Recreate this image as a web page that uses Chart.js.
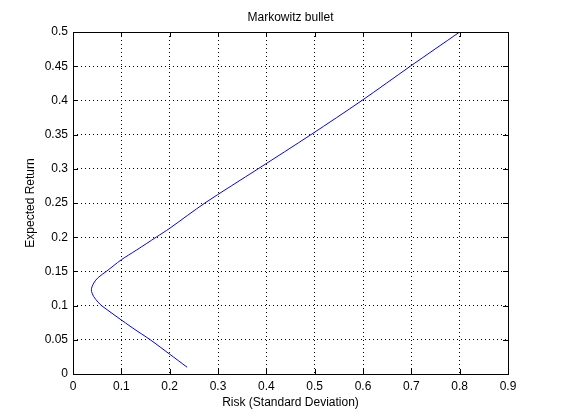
<!DOCTYPE html>
<html>
<head>
<meta charset="utf-8">
<script src="https://cdn.jsdelivr.net/npm/chart.js@4.4.0/dist/chart.umd.min.js"></script>
<style>
  body { margin: 0; background: #fff; }
  canvas { display: block; }
</style>
</head>
<body>
<canvas id="myChart" width="561" height="420"></canvas>
<script>
// values
var expectedReturn = [0.010, 0.029, 0.050, 0.067, 0.100, 0.105, 0.113, 0.123, 0.133, 0.141, 0.150, 0.167, 0.181, 0.200, 0.213, 0.250, 0.300, 0.350, 0.400, 0.450, 0.500];
var risk           = [0.236, 0.200, 0.160, 0.124, 0.059, 0.052, 0.043, 0.038, 0.043, 0.052, 0.069, 0.100, 0.131, 0.172, 0.200, 0.273, 0.383, 0.4925, 0.598, 0.698, 0.800];

var xTickValues = [0, 0.1, 0.2, 0.3, 0.4, 0.5, 0.6, 0.7, 0.8, 0.9];
var xTickLabels = ['0', '0.1', '0.2', '0.3', '0.4', '0.5', '0.6', '0.7', '0.8', '0.9'];
var yTickValues = [0, 0.05, 0.1, 0.15, 0.2, 0.25, 0.3, 0.35, 0.4, 0.45, 0.5];
var yTickLabels = ['0', '0.05', '0.1', '0.15', '0.2', '0.25', '0.3', '0.35', '0.4', '0.45', '0.5'];

var chartTitle = 'Markowitz bullet';
var xTitle = 'Risk (Standard Deviation)';
var yTitle = 'Expected Return';

var points = risk.map(function(r, i) { return { x: r, y: expectedReturn[i] }; });

var FONT = 'Liberation Sans, Arial, Helvetica, sans-serif';

// box round the axes, inward ticks and the title, matlab style
var matlabBox = {
  id: 'matlabBox',
  afterDraw: function(chart) {
    var ctx = chart.ctx;
    var a = chart.chartArea;
    var xs = chart.scales.x, ys = chart.scales.y;
    ctx.save();
    ctx.strokeStyle = '#000';
    ctx.lineWidth = 1;
    ctx.setLineDash([]);
    ctx.beginPath();
    xTickValues.forEach(function(v) {
      var px = Math.round(xs.getPixelForValue(v)) + 0.5;
      ctx.moveTo(px, a.bottom); ctx.lineTo(px, a.bottom - 5);
      ctx.moveTo(px, a.top); ctx.lineTo(px, a.top + 5);
    });
    yTickValues.forEach(function(v) {
      var py = Math.round(ys.getPixelForValue(v)) + 0.5;
      ctx.moveTo(a.left, py); ctx.lineTo(a.left + 5, py);
      ctx.moveTo(a.right, py); ctx.lineTo(a.right - 5, py);
    });
    ctx.stroke();
    ctx.strokeRect(Math.round(a.left) + 0.5, Math.round(a.top) + 0.5,
                   Math.round(a.right - a.left), Math.round(a.bottom - a.top));
    ctx.fillStyle = '#000';
    ctx.font = '12px ' + FONT;
    ctx.textAlign = 'center';
    ctx.textBaseline = 'middle';
    ctx.fillText(chartTitle, (a.left + a.right) / 2, 18);
    ctx.restore();
  }
};

var ctx = document.getElementById('myChart').getContext('2d');
var myChart = new Chart(ctx, {
  type: 'scatter',
  data: {
    datasets: [{
      data: points,
      showLine: true,
      borderColor: '#0000ff',
      borderWidth: 1,
      pointRadius: 0,
      tension: 0.3,
      fill: false
    }]
  },
  options: {
    responsive: false,
    animation: false,
    devicePixelRatio: 1,
    layout: { padding: { left: 0, right: 53, top: 32, bottom: 0 } },
    plugins: {
      legend: { display: false },
      tooltip: { enabled: false }
    },
    scales: {
      x: {
        type: 'linear',
        min: 0,
        max: 0.9,
        afterBuildTicks: function(scale) {
          scale.ticks = xTickValues.map(function(v) { return { value: v }; });
        },
        afterFit: function(scale) { scale.height = 46; },
        ticks: {
          color: '#000',
          padding: 5,
          maxRotation: 0,
          font: { family: FONT, size: 12 },
          callback: function(value, index) { return xTickLabels[index]; }
        },
        grid: {
          color: '#000',
          lineWidth: 1,
          drawTicks: false
        },
        border: { display: false, dash: [1, 3] },
        title: {
          display: true,
          text: xTitle,
          color: '#000',
          font: { family: FONT, size: 12 },
          padding: { top: 0, bottom: 10 }
        }
      },
      y: {
        type: 'linear',
        min: 0,
        max: 0.5,
        afterBuildTicks: function(scale) {
          scale.ticks = yTickValues.map(function(v) { return { value: v }; });
        },
        afterFit: function(scale) { scale.width = 73; },
        ticks: {
          color: '#000',
          padding: 5,
          font: { family: FONT, size: 12 },
          callback: function(value, index) { return yTickLabels[index]; }
        },
        grid: {
          color: '#000',
          lineWidth: 1,
          drawTicks: false
        },
        border: { display: false, dash: [1, 3] },
        title: {
          display: true,
          text: yTitle,
          color: '#000',
          font: { family: FONT, size: 12 },
          padding: { top: 23, bottom: 0 }
        }
      }
    }
  },
  plugins: [matlabBox]
});
</script>
</body>
</html>
